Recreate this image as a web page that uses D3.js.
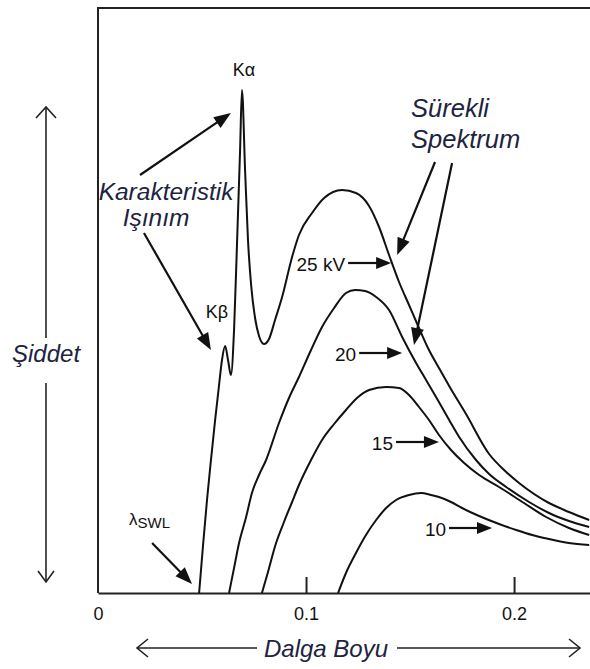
<!DOCTYPE html>
<html>
<head>
<meta charset="utf-8">
<style>
  body { margin: 0; background: #fff; }
  svg { display: block; font-family: "Liberation Sans", Arial, sans-serif; }
  .curve { fill: none; stroke: #111; stroke-width: 2px; stroke-linejoin: round; }
  .frame { stroke: #222; stroke-width: 2px; fill: none; }
  .note { font-style: italic; fill: #1d2340; }
  .lbl { fill: #111; }
  .axis text { font-size: 18px; fill: #111; font-family: "Liberation Sans", Arial, sans-serif; }
  .axis path, .axis line { stroke: #222; stroke-width: 2px; }
</style>
</head>
<body>
<script src="https://cdn.jsdelivr.net/npm/d3@7"></script>
<script>
// wavelength (nm) and intensity (arbitrary units)
var lam25 = [0.0486,0.0505,0.0524,0.0543,0.0563,0.0582,0.0596,0.0611,0.0625,0.0639,0.0654,0.0668,0.0683,0.0692,0.0707,0.0721,0.0736,0.0755,0.0774,0.0798,0.0822,0.0851,0.0885,0.0933,0.0966,0.1029,0.1087,0.1173,0.1240,0.1303,0.1351,0.1399,0.1447,0.1495,0.1543,0.1591,0.1639,0.1688,0.1769,0.1880,0.1952,0.2024,0.2168,0.2264,0.2361];
var int25 = [0,4.8,9.3,13.3,17.3,20.8,23.3,24.7,23.3,21.8,26.3,34.8,44.3,50.3,42.3,35.3,30.8,27.5,25.7,24.9,25.4,27.3,29.6,33.6,35.8,38.0,39.5,40.3,40.0,38.7,36.6,33.8,31.1,28.8,26.5,24.3,22.5,20.7,17.9,13.9,12.3,11.0,9.0,8.1,7.3];

var lam20 = [0.0630,0.0654,0.0678,0.0712,0.0740,0.0774,0.0808,0.0870,0.0918,0.0966,0.1024,0.1077,0.1135,0.1192,0.1236,0.1284,0.1337,0.1399,0.1462,0.1529,0.1577,0.1625,0.1688,0.1736,0.1817,0.1880,0.1962,0.2072,0.2168,0.2264,0.2361];
var int20 = [0,2.5,5.0,7.6,10.0,11.8,13.3,17.0,19.5,21.6,24.3,26.6,28.5,30.0,30.3,30.2,29.6,28.3,25.6,23.0,21.3,19.6,17.3,15.6,13.3,11.9,10.6,9.1,8.0,7.2,6.6];

var lam15 = [0.0788,0.0813,0.0856,0.0894,0.0933,0.0966,0.1024,0.1077,0.1135,0.1192,0.1245,0.1303,0.1385,0.1447,0.1495,0.1543,0.1591,0.1639,0.1697,0.1760,0.1832,0.1928,0.2048,0.2154,0.2264,0.2361];
var int15 = [0,1.8,5.0,7.1,9.1,10.8,13.3,15.3,16.9,18.3,19.5,20.3,20.6,20.5,19.8,18.6,17.3,15.8,14.3,13.0,11.8,10.6,9.0,7.6,6.5,5.8];

var lam10 = [0.1154,0.1192,0.1240,0.1288,0.1337,0.1385,0.1433,0.1495,0.1553,0.1601,0.1639,0.1697,0.1750,0.1832,0.1928,0.2010,0.2087,0.2168,0.2264,0.2361];
var int10 = [0,2.0,4.0,5.8,7.3,8.5,9.3,9.8,10.0,9.8,9.6,9.1,8.5,7.7,6.9,6.3,5.8,5.4,5.0,4.8];

var tickValues = [0, 0.1, 0.2];
var tickLabels = ["0", "0.1", "0.2"];

// kV labels and where their arrows point (wavelength, intensity)
var kvLabels = ["25 kV", "20", "15", "10"];
var kvTips = [[0.1409, 33.0], [0.1462, 24.0], [0.1639, 15.1], [0.1894, 6.5]];

// annotation arrows: [from lam, from int, to lam, to int]
var noteArrows = [
  [0.0202, 41.8, 0.0639, 48.0],
  [0.0221, 36.0, 0.0543, 24.3],
  [0.1620, 43.1, 0.1438, 33.8],
  [0.1702, 43.0, 0.1519, 24.8],
  [0.0260, 5.0, 0.0452, 0.9]
];

var W = 590, H = 669;
var x = d3.scaleLinear().domain([0, 0.2365]).range([98, 590]);
var y = d3.scaleLinear().domain([0, 58.5]).range([593, 8]);

var svg = d3.select("body").append("svg")
    .attr("width", W)
    .attr("height", H);

var series = [
  { lam: lam25, val: int25 },
  { lam: lam20, val: int20 },
  { lam: lam15, val: int15 },
  { lam: lam10, val: int10 }
];

// frame (left + top)
svg.append("path")
    .attr("class", "frame")
    .attr("d", "M" + x(0) + "," + y(0) + "V" + y(58.5) + "H" + W);

// x axis with inward ticks
var xAxis = svg.append("g")
    .attr("class", "axis")
    .attr("transform", "translate(0," + y(0) + ")")
    .call(d3.axisBottom(x)
        .tickValues(tickValues)
        .tickFormat(function (d, i) { return tickLabels[i]; })
        .tickSize(-16)
        .tickSizeOuter(0)
        .tickPadding(14));
xAxis.selectAll(".tick line").filter(function (d) { return d === 0; }).remove();

// the curves
var line = d3.line()
    .x(function (d) { return x(d[0]); })
    .y(function (d) { return y(d[1]); })
    .curve(d3.curveMonotoneX);

series.forEach(function (s) {
    var pts = s.lam.map(function (l, i) { return [l, s.val[i]]; });
    svg.append("path")
        .datum(pts)
        .attr("class", "curve")
        .attr("d", line);
});

// filled arrow from (x1,y1) to (x2,y2)
function arrow(x1, y1, x2, y2, len, half) {
    var dx = x2 - x1, dy = y2 - y1;
    var d = Math.sqrt(dx * dx + dy * dy);
    var ux = dx / d, uy = dy / d;
    var bx = x2 - ux * len, by = y2 - uy * len;
    svg.append("line")
        .attr("x1", x1).attr("y1", y1)
        .attr("x2", bx + ux * 2).attr("y2", by + uy * 2)
        .attr("stroke", "#111").attr("stroke-width", 2.2);
    svg.append("path")
        .attr("d", "M" + x2 + "," + y2 +
            "L" + (bx - uy * half) + "," + (by + ux * half) +
            "L" + (bx + uy * half) + "," + (by - ux * half) + "Z")
        .attr("fill", "#111");
}

// open arrowhead line (axis arrows)
function openHead(tx, ty, ux, uy, len, half) {
    var bx = tx - ux * len, by = ty - uy * len;
    svg.append("path")
        .attr("d", "M" + (bx - uy * half) + "," + (by + ux * half) +
            "L" + tx + "," + ty +
            "L" + (bx + uy * half) + "," + (by - ux * half))
        .attr("fill", "none").attr("stroke", "#222").attr("stroke-width", 1.6);
}

noteArrows.forEach(function (a) {
    arrow(x(a[0]), y(a[1]), x(a[2]), y(a[3]), 17, 6.5);
});

kvTips.forEach(function (t, i) {
    var tx = x(t[0]), ty = y(t[1]);
    arrow(tx - 43, ty, tx, ty, 15, 6);
    svg.append("text")
        .attr("class", "lbl")
        .attr("x", tx - 46)
        .attr("y", ty + 8)
        .attr("text-anchor", "end")
        .style("font-size", "19px")
        .text(kvLabels[i]);
});

// peak labels
svg.append("text").attr("class", "lbl")
    .attr("x", x(0.0702)).attr("y", y(51.7))
    .attr("text-anchor", "middle").style("font-size", "18px")
    .text("Kα");
svg.append("text").attr("class", "lbl")
    .attr("x", x(0.0572)).attr("y", y(27.5))
    .attr("text-anchor", "middle").style("font-size", "18px")
    .text("Kβ");

var swl = svg.append("text").attr("class", "lbl")
    .attr("x", x(0.0149)).attr("y", y(6.8))
    .style("font-size", "17px");
swl.append("tspan").text("λ");
swl.append("tspan").attr("dy", 3).style("font-size", "15px").text("SWL");

// italic notes
svg.append("text").attr("class", "note")
    .attr("x", x(0.0327)).attr("y", y(39.3))
    .attr("text-anchor", "middle").style("font-size", "24.5px")
    .text("Karakteristik");
svg.append("text").attr("class", "note")
    .attr("x", x(0.0279)).attr("y", y(36.7))
    .attr("text-anchor", "middle").style("font-size", "24.5px")
    .text("Işınım");
svg.append("text").attr("class", "note")
    .attr("x", x(0.1505)).attr("y", y(47.6))
    .style("font-size", "25.5px")
    .text("Sürekli");
svg.append("text").attr("class", "note")
    .attr("x", x(0.1505)).attr("y", y(44.5))
    .style("font-size", "25.5px")
    .text("Spektrum");

// y axis title with double arrow
svg.append("text").attr("class", "note")
    .attr("x", 12).attr("y", 362)
    .style("font-size", "24px")
    .text("Şiddet");
svg.append("line").attr("x1", 46).attr("x2", 46).attr("y1", 107).attr("y2", 338)
    .attr("stroke", "#222").attr("stroke-width", 1.6);
svg.append("line").attr("x1", 46).attr("x2", 46).attr("y1", 383).attr("y2", 582)
    .attr("stroke", "#222").attr("stroke-width", 1.6);
openHead(46, 107, 0, -1, 11, 10);
openHead(46, 582, 0, 1, 11, 8);

// x axis title with double arrow
svg.append("text").attr("class", "note")
    .attr("x", 326).attr("y", 657)
    .attr("text-anchor", "middle")
    .style("font-size", "24px")
    .text("Dalga Boyu");
svg.append("line").attr("x1", 137).attr("x2", 257).attr("y1", 648).attr("y2", 648)
    .attr("stroke", "#222").attr("stroke-width", 1.6);
svg.append("line").attr("x1", 397).attr("x2", 580).attr("y1", 648).attr("y2", 648)
    .attr("stroke", "#222").attr("stroke-width", 1.6);
openHead(137, 648, -1, 0, 11, 9);
openHead(580, 648, 1, 0, 11, 9);
</script>
</body>
</html>
